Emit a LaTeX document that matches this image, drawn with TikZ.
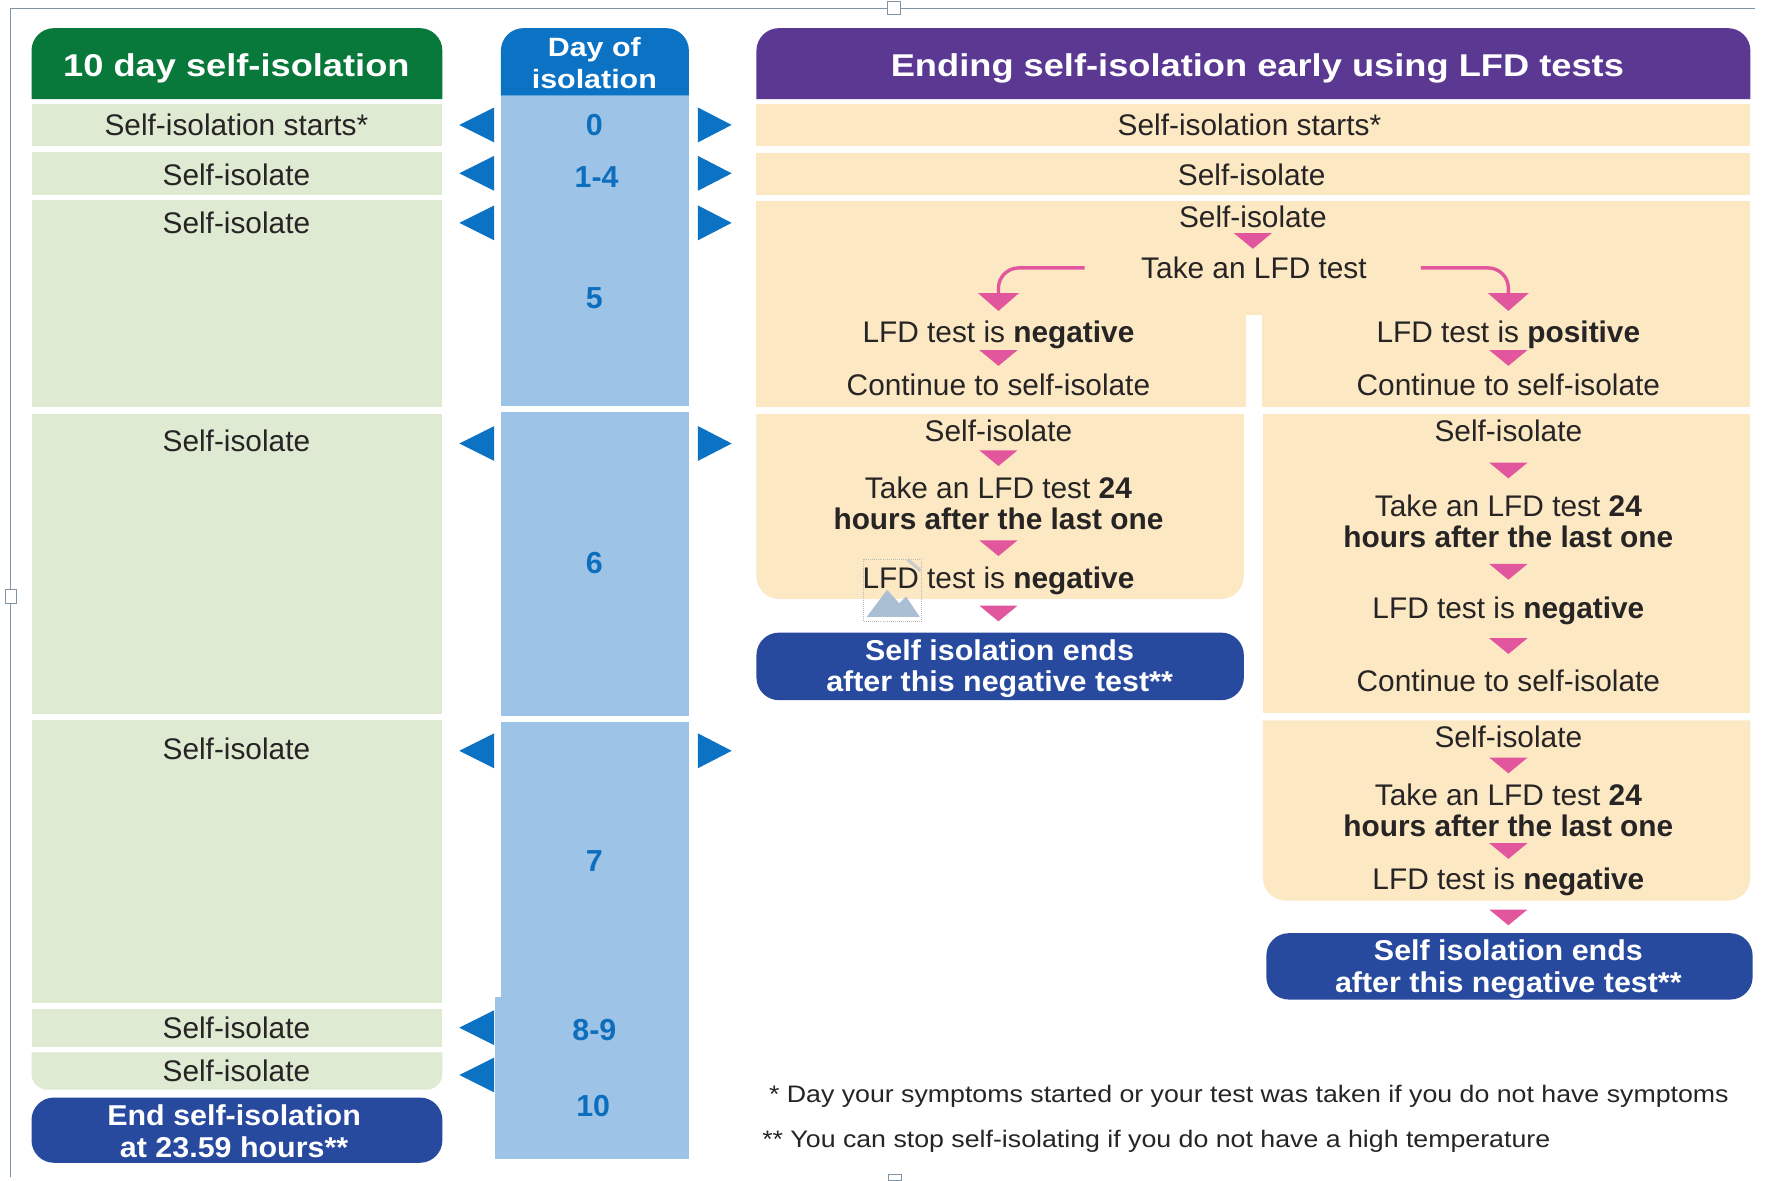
\documentclass[tikz,border=0pt]{standalone}
\usepackage{fontspec}
\setmainfont{Liberation Sans}
\newfontfamily\hdrfont{Liberation Sans}[FakeStretch=1.15]
\newfontfamily\endfont{Liberation Sans}[FakeStretch=1.06]
\newfontfamily\footfont{Liberation Sans}[FakeStretch=1.12]
\usetikzlibrary{arrows.meta,calc}
\definecolor{hgreen}{RGB}{8,121,58}
\definecolor{lgreen}{RGB}{223,234,210}
\definecolor{dblue}{RGB}{11,114,196}
\definecolor{lblue}{RGB}{157,195,230}
\definecolor{numblue}{RGB}{14,110,190}
\definecolor{purp}{RGB}{91,57,146}
\definecolor{peach}{RGB}{253,232,196}
\definecolor{navy}{RGB}{39,73,158}
\definecolor{pinkc}{RGB}{226,86,158}
\definecolor{txtc}{RGB}{38,36,36}
\definecolor{framec}{RGB}{128,148,168}
\definecolor{iconc}{RGB}{170,190,212}
\tikzset{
  body/.style={font=\fontsize{26.5}{28}\selectfont, text=txtc, inner sep=0pt, text height=19pt, text depth=0pt},
  bodytwo/.style={font=\fontsize{26.5}{28}\selectfont, text=txtc, inner sep=0pt, align=center},
  hdr/.style={font=\hdrfont\fontsize{28}{30}\selectfont\bfseries, text=white, inner sep=0pt, text height=20pt, text depth=0pt},
  dayhdr/.style={font=\hdrfont\fontsize{23.5}{28}\selectfont\bfseries, text=white, inner sep=0pt, align=center},
  daynum/.style={font=\fontsize{27}{28}\selectfont\bfseries, text=numblue, inner sep=0pt, text height=19pt, text depth=0pt},
  endtxt/.style={font=\endfont\fontsize{25.5}{28}\selectfont\bfseries, text=white, inner sep=0pt, align=center},
  foot/.style={font=\footfont\fontsize{21.2}{24}\selectfont, text=txtc, inner sep=0pt, text height=15pt, text depth=0pt, anchor=west},
  pinkline/.style={draw=pinkc, line width=3pt, rounded corners=18pt, -{Triangle[width=36pt,length=16pt]}},
  ptri/.pic={\fill[pinkc] (-17,-7) -- (17,-7) -- (0,7) -- cycle;},
  ltri/.pic={\fill[dblue] (0,0) -- (31,-15.5) -- (31,15.5) -- cycle;},
  rtri/.pic={\fill[dblue] (0,-15.5) -- (30,0) -- (0,15.5) -- cycle;},
}
\begin{document}
\begin{tikzpicture}[x=1pt,y=-1pt]
\useasboundingbox (0,0) rectangle (1568,1049);
\fill[white] (0,0) rectangle (1568,1049);
% frame
\draw[framec, line width=1.2pt] (9.5,1046) -- (9.5,7.5) -- (1559,7.5);
\draw[framec, fill=white, line width=0.8pt] (788,1.5) rectangle (800,12.5);
\draw[framec, fill=white, line width=0.8pt] (5,524) rectangle (15,536);
\draw[framec, fill=white, line width=0.8pt] (789,1043) rectangle (801,1049);
% ---------------- left column
\fill[hgreen] (28,88) [rounded corners=20pt] -- (28,25) -- (393,25) [sharp corners] -- (393,88) -- cycle;
\fill[lgreen] (28,92) rectangle (393,130);
\fill[lgreen] (28,135) rectangle (393,173);
\fill[lgreen] (28,178) rectangle (393,362);
\fill[lgreen] (28,368) rectangle (393,634);
\fill[lgreen] (28,640) rectangle (393,891);
\fill[lgreen] (28,896) rectangle (393,930);
\fill[lgreen] (393,935) -- (28,935) [rounded corners=14pt] -- (28,968) -- (393,968) [sharp corners] -- cycle;
\fill[navy, rounded corners=20pt] (28,975) rectangle (393,1033);
\node[hdr] (lh) at (210,58) {10 day self-isolation};
\node[body] (l0) at (210,111) {Self-isolation starts*};
\node[body] (l1) at (210,155) {Self-isolate};
\node[body] (l5) at (210,198) {Self-isolate};
\node[body] (l6) at (210,392) {Self-isolate};
\node[body] (l7) at (210,665) {Self-isolate};
\node[body] (l89) at (210,913) {Self-isolate};
\node[body] (l10) at (210,951) {Self-isolate};
\node[endtxt] (lend) at (208,1005) {End self-isolation\\at 23.59 hours**};
% ---------------- day column
\fill[dblue] (445,85) [rounded corners=20pt] -- (445,25) -- (612,25) [sharp corners] -- (612,85) -- cycle;
\fill[lblue] (445,85) rectangle (612,361);
\fill[lblue] (445,366) rectangle (612,636);
\fill[lblue] (445,641) rectangle (612,891);
\fill[lblue] (440,886) rectangle (612,1030);
\node[dayhdr] (dh) at (528,56) {Day of\\isolation};
\node[daynum] (d0) at (528,111) {0};
\node[daynum] (d14) at (530,157) {1-4};
\node[daynum] (d5) at (528,265) {5};
\node[daynum] (d6) at (528,500) {6};
\node[daynum] (d7) at (528,765) {7};
\node[daynum] (d89) at (528,915) {8-9};
\node[daynum] (d10) at (527,982) {10};
\foreach \yy in {111,154,198,394,667,913,955} {\pic at (408,\yy) {ltri};}
\foreach \yy in {111,154,198,394,667} {\pic at (620,\yy) {rtri};}
% ---------------- right side
\fill[purp] (672,88) [rounded corners=20pt] -- (672,25) -- (1555,25) [sharp corners] -- (1555,88) -- cycle;
\fill[peach] (672,92) rectangle (1555,130);
\fill[peach] (672,136) rectangle (1555,173);
\fill[peach] (672,179) rectangle (1555,362);
\fill[white] (1107,280) rectangle (1121,362);
\fill[peach] (1105,368) -- (672,368) [rounded corners=20pt] -- (672,532) -- (1105,532) [sharp corners] -- cycle;
\fill[navy, rounded corners=20pt] (672,562) rectangle (1105,622);
\fill[peach] (1122,368) rectangle (1555,633);
\fill[peach] (1555,640) -- (1122,640) [rounded corners=20pt] -- (1122,800) -- (1555,800) [sharp corners] -- cycle;
\fill[navy, rounded corners=20pt] (1125,829) rectangle (1557,888);
\node[hdr] (rh) at (1117,58) {Ending self-isolation early using LFD tests};
\node[body] (r0) at (1110,111) {Self-isolation starts*};
\node[body] (r1) at (1112,155) {Self-isolate};
\node[body] (r5) at (1113,193) {Self-isolate};
\node[body] (rtk) at (1114,238) {Take an LFD test};
\node[body] (negA) at (887,295) {LFD test is \textbf{negative}};
\node[body] (conA) at (887,342) {Continue to self-isolate};
\node[body] (posB) at (1340,295) {LFD test is \textbf{positive}};
\node[body] (conB) at (1340,342) {Continue to self-isolate};
% day 6 left branch
\node[body] (s6a) at (887,383) {Self-isolate};
\node[bodytwo] (t6a) at (887,447) {Take an LFD test \textbf{24}\\\textbf{hours after the last one}};
\node[body] (n6a) at (887,513) {LFD test is \textbf{negative}};
\node[endtxt] (endA) at (888,594) {Self isolation ends\\after this negative test**};
% day 6 right branch
\node[body] (s6b) at (1340,383) {Self-isolate};
\node[bodytwo] (t6b) at (1340,463) {Take an LFD test \textbf{24}\\\textbf{hours after the last one}};
\node[body] (n6b) at (1340,540) {LFD test is \textbf{negative}};
\node[body] (c6b) at (1340,605) {Continue to self-isolate};
% day 7 right branch
\node[body] (s7b) at (1340,655) {Self-isolate};
\node[bodytwo] (t7b) at (1340,720) {Take an LFD test \textbf{24}\\\textbf{hours after the last one}};
\node[body] (n7b) at (1340,781) {LFD test is \textbf{negative}};
\node[endtxt] (endB) at (1340,861) {Self isolation ends\\after this negative test**};
% pink connectors
\draw[pinkline] ([xshift=-50pt]rtk.west) -| ([yshift=9pt]negA.north);
\draw[pinkline] ([xshift=48pt]rtk.east) -| ([yshift=9pt]posB.north);
\foreach \px/\py in {1113/214, 887/318, 1340/318, 887/407, 887/487, 887/545,
  1340/418, 1340/508, 1340/574, 1340/680, 1340/756, 1340/815} {\pic at (\px,\py) {ptri};}
% broken image placeholder
\draw[gray!55, densely dotted, line width=0.8pt] (767,497) rectangle (819,552);
\fill[iconc] (770,548) -- (788,524) -- (799,536) -- (805,530) -- (817,548) -- cycle;
\draw[gray!40, line width=3pt] (806,497) -- (818,507);
% footnotes
\node[foot] (fn1) at (683,972) {* Day your symptoms started or your test was taken if you do not have symptoms};
\node[foot] (fn2) at (677,1012) {** You can stop self-isolating if you do not have a high temperature};
\end{tikzpicture}
\end{document}
